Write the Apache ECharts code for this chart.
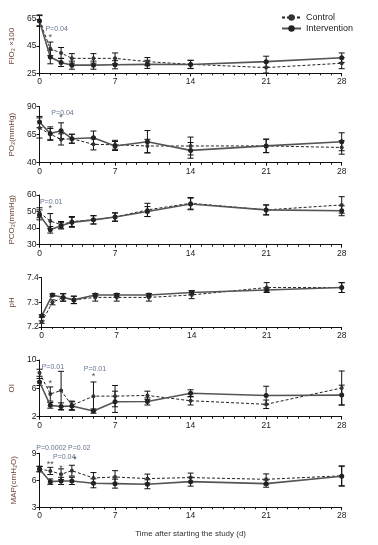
<!DOCTYPE html>
<html><head><meta charset="utf-8">
<script src="https://cdn.jsdelivr.net/npm/echarts@6/dist/echarts.min.js"></script>
<style>html,body{margin:0;padding:0;background:#fff}#c{width:378px;height:545px}</style>
</head><body><div id="c"></div>
<script>
// ---- data ----
var days = [0, 1, 2, 3, 5, 7, 10, 14, 21, 28];
var xTicks = [0, 7, 14, 21, 28];

var fio2Control = [64, 43, 40, 36, 36, 36, 33.6, 31.6, 29.2, 32.4];
var fio2ControlErr = [4, 5, 4, 3.5, 3.5, 4, 3, 3, 4, 4];
var fio2Interv = [63.5, 37, 33, 31, 31, 31.3, 31.6, 31.5, 33.6, 36.5];
var fio2IntervErr = [4, 5, 3, 3, 3, 3, 3, 3, 4, 3.5];

var po2Control = [71, 65.5, 60.8, 61.4, 56.4, 56, 54.9, 54.9, 55, 53.6];
var po2ControlErr = [9, 5, 5, 4, 5, 4, 6, 8, 6, 6];
var po2Interv = [76.3, 66, 68.6, 61.4, 62.3, 54.9, 58.7, 51, 55, 58.7];
var po2IntervErr = [5, 6, 7, 4, 6, 4, 10, 7, 6, 8];

var pco2Control = [49.3, 44.3, 42, 44, 45, 46.7, 51, 55, 51, 54];
var pco2ControlErr = [3, 4.5, 2, 3, 2.5, 2.5, 4, 3.5, 3, 5];
var pco2Interv = [48, 39, 41.5, 43.5, 45, 46.7, 50, 54.6, 51, 50.5];
var pco2IntervErr = [3, 2, 2, 3, 2.5, 2.5, 3, 3.5, 3, 3];

var phControl = [7.22, 7.30, 7.32, 7.31, 7.32, 7.32, 7.32, 7.33, 7.36, 7.36];
var phControlErr = [0.005, 0.01, 0.015, 0.015, 0.015, 0.015, 0.015, 0.015, 0.02, 0.02];
var phInterv = [7.245, 7.33, 7.32, 7.31, 7.33, 7.33, 7.33, 7.34, 7.35, 7.36];
var phIntervErr = [0.005, 0.005, 0.015, 0.015, 0.005, 0.005, 0.005, 0.008, 0.008, 0.02];

var oiControl = [8.2, 5.2, 5.7, 3.6, 4.9, 4.9, 5.0, 4.25, 3.75, 6.05];
var oiControlErr = [0.5, 1.0, 2.7, 0.6, 2.0, 1.5, 0.6, 0.6, 0.6, 2.4];
var oiInterv = [6.9, 3.6, 3.45, 3.5, 2.8, 4.1, 4.15, 5.3, 5.0, 5.05];
var oiIntervErr = [0.5, 0.4, 0.5, 0.6, 0.3, 1.5, 0.5, 0.5, 1.3, 1.4];

var mapControl = [7.25, 7.04, 6.67, 7.07, 6.26, 6.37, 6.19, 6.3, 6.11, 6.5];
var mapControlErr = [0.3, 0.4, 0.6, 0.6, 0.6, 0.7, 0.5, 0.5, 0.6, 1.1];
var mapInterv = [7.25, 5.85, 5.93, 5.93, 5.67, 5.63, 5.56, 5.85, 5.63, 6.45];
var mapIntervErr = [0.3, 0.3, 0.4, 0.4, 0.5, 0.5, 0.5, 0.5, 0.4, 1.1];

var panelNames = ['FIO\u2082 \u00d7100', 'PO\u2082(mmHg)', 'PCO\u2082(mmHg)', 'pH', 'OI', 'MAP(cmH\u2082O)'];
var yMins = [25, 40, 30, 7.2, 2, 3];
var yMaxs = [65, 90, 60, 7.4, 10, 9];
var yIntervals = [20, 25, 10, 0.1, 4, 3];

// annotations: [panel, day, value, text, align]
var annotations = [
  [0, 0.55, 57.8, 'P=0.04', 'left'],
  [0, 1.0, 51.0, '*', 'center'],
  [1, 1.1, 84.6, 'P=0.04', 'left'],
  [1, 2.0, 80.0, '*', 'center'],
  [2, 0.05, 56.0, 'P=0.01', 'left'],
  [2, 1.0, 52.0, '*', 'center'],
  [4, 0.2, 8.97, 'P=0.01', 'left'],
  [4, 1.0, 6.7, '*', 'center'],
  [4, 4.1, 8.69, 'P=0.01', 'left'],
  [4, 5.0, 7.7, '*', 'center'],
  [5, -0.3, 9.55, 'P=0.0002', 'left'],
  [5, 2.65, 9.55, 'P=0.02', 'left'],
  [5, 1.25, 8.55, 'P=0.04', 'left'],
  [5, 1.0, 7.8, '**', 'center'],
  [5, 2.0, 7.35, '*', 'center'],
  [5, 3.3, 8.35, '*', 'center']
];

var controls = [fio2Control, po2Control, pco2Control, phControl, oiControl, mapControl];
var controlErrs = [fio2ControlErr, po2ControlErr, pco2ControlErr, phControlErr, oiControlErr, mapControlErr];
var intervs = [fio2Interv, po2Interv, pco2Interv, phInterv, oiInterv, mapInterv];
var intervErrs = [fio2IntervErr, po2IntervErr, pco2IntervErr, phIntervErr, oiIntervErr, mapIntervErr];

// ---- layout ----
var gridTops = [19, 106.7, 195, 277.7, 360, 453.3];
var gridBottoms = [73.3, 162.7, 244.7, 327, 416.7, 507.3];
var FONT = 'Liberation Sans';

var grids = [], xAxes = [], yAxes = [], series = [];
function errRender(params, api) {
  var x = api.value(0), lo = api.value(1), hi = api.value(2);
  var a = api.coord([x, lo]), b = api.coord([x, hi]);
  var w = 3;
  var st = {stroke: '#111', lineWidth: 1};
  return {type: 'group', children: [
    {type: 'line', shape: {x1: a[0], y1: a[1], x2: b[0], y2: b[1]}, style: st},
    {type: 'line', shape: {x1: a[0] - w, y1: a[1], x2: a[0] + w, y2: a[1]}, style: st},
    {type: 'line', shape: {x1: b[0] - w, y1: b[1], x2: b[0] + w, y2: b[1]}, style: st}
  ]};
}
for (var i = 0; i < 6; i++) {
  grids.push({left: 39.5, width: 302.2, top: gridTops[i], height: gridBottoms[i] - gridTops[i]});
  xAxes.push({
    type: 'value', gridIndex: i, min: 0, max: 28, interval: 7,
    axisLine: {lineStyle: {color: '#111', width: 1}},
    axisTick: {show: true, length: 3, lineStyle: {color: '#111'}},
    minorTick: {show: true, splitNumber: 7, length: 2, lineStyle: {color: '#111'}},
    splitLine: {show: false},
    axisLabel: {fontFamily: FONT, fontSize: 8.5, color: '#222', margin: 4,
      formatter: function (v) { return xTicks.indexOf(v) >= 0 ? String(v) : ''; }},
    name: i === 5 ? 'Time after starting the study (d)' : '',
    nameLocation: 'middle', nameGap: 22,
    nameTextStyle: {fontFamily: FONT, fontSize: 8, color: '#333'}
  });
  (function (idx) {
    yAxes.push({
      type: 'value', gridIndex: idx, min: yMins[idx], max: yMaxs[idx], interval: yIntervals[idx],
      axisLine: {show: true, lineStyle: {color: '#111', width: 1}},
      axisTick: {show: true, length: 3, lineStyle: {color: '#111'}},
      splitLine: {show: false},
      axisLabel: {fontFamily: FONT, fontSize: 8.5, color: '#222', margin: 3,
        formatter: function (v) { return idx === 3 ? v.toFixed(1) : String(Math.round(v)); }},
      name: panelNames[idx], nameLocation: 'middle', nameGap: 22,
      nameTextStyle: {fontFamily: FONT, fontSize: 8, color: '#6b3f35'}
    });
  })(i);
  var cData = days.map(function (d, k) { return [d, controls[i][k]]; });
  var iData = days.map(function (d, k) { return [d, intervs[i][k]]; });
  var cErr = days.map(function (d, k) { return [d, controls[i][k] - controlErrs[i][k], controls[i][k] + controlErrs[i][k]]; });
  var iErr = days.map(function (d, k) { return [d, intervs[i][k] - intervErrs[i][k], intervs[i][k] + intervErrs[i][k]]; });
  series.push({type: 'custom', xAxisIndex: i, yAxisIndex: i, renderItem: errRender, data: cErr, encode: {x: 0, y: [1, 2]}, silent: true, z: 2});
  series.push({type: 'custom', xAxisIndex: i, yAxisIndex: i, renderItem: errRender, data: iErr, encode: {x: 0, y: [1, 2]}, silent: true, z: 2});
  series.push({name: 'Control', type: 'line', xAxisIndex: i, yAxisIndex: i, data: cData,
    symbol: 'circle', symbolSize: 4, itemStyle: {color: '#333'},
    lineStyle: {color: '#222', width: 1, type: [3, 2]}, z: 3, animation: false});
  series.push({name: 'Intervention', type: 'line', xAxisIndex: i, yAxisIndex: i, data: iData,
    symbol: 'circle', symbolSize: 5, itemStyle: {color: '#222'},
    lineStyle: {color: '#555', width: 1.6}, z: 4, animation: false});
  var ann = annotations.filter(function (a) { return a[0] === i; });
  if (ann.length) {
    series.push({type: 'scatter', xAxisIndex: i, yAxisIndex: i, symbolSize: 0, clip: false, silent: true,
      data: ann.map(function (a) {
        return {value: [a[1], a[2]], label: {show: true, formatter: a[3], position: 'inside', align: a[4],
          fontFamily: FONT, fontSize: a[3].indexOf('*') >= 0 ? 9 : 7, color: a[3].indexOf('*') >= 0 ? '#222' : '#3d4f73'}};
      }), z: 5});
  }
}

var chart = echarts.init(document.getElementById('c'), null, {renderer: 'canvas'});
chart.setOption({
  animation: false,
  backgroundColor: '#fff',
  legend: {
    data: ['Control', 'Intervention'], orient: 'vertical', left: 276, top: 8, itemGap: 2,
    itemWidth: 19, itemHeight: 8,
    textStyle: {fontFamily: FONT, fontSize: 9, color: '#222'}
  },
  grid: grids, xAxis: xAxes, yAxis: yAxes, series: series
});
</script></body></html>
